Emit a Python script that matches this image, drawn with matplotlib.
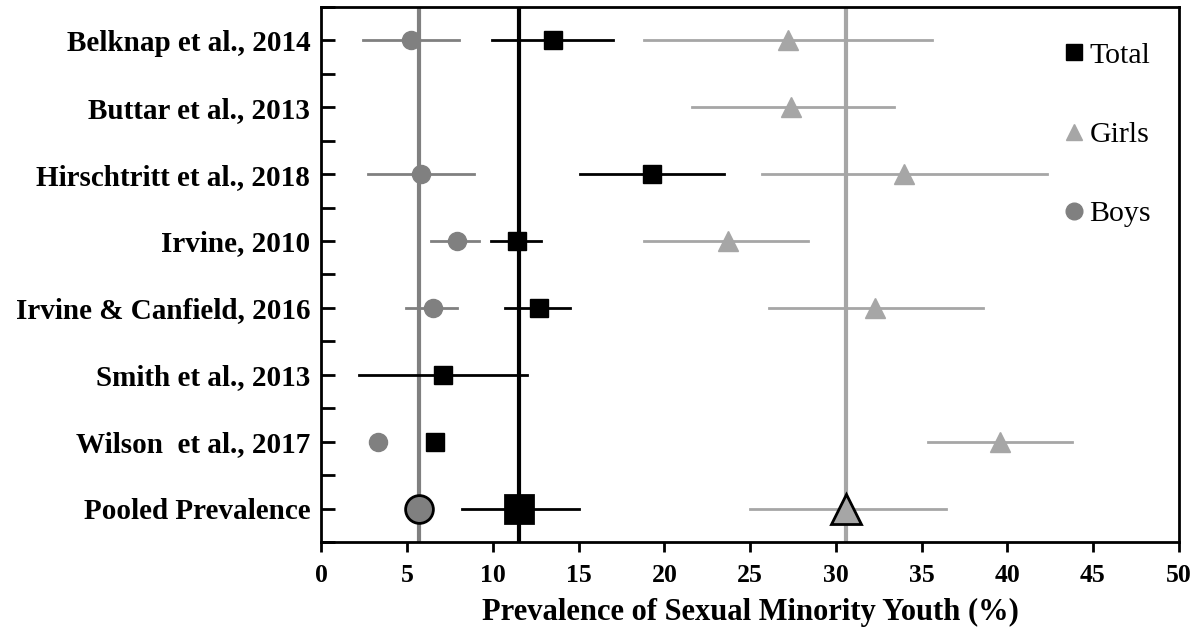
import numpy as np
import matplotlib
matplotlib.use('Agg')
import matplotlib.pyplot as plt
from matplotlib.lines import Line2D

plt.rcParams['font.family'] = ['Liberation Serif', 'DejaVu Serif']

# Data
studies = ['Belknap et al., 2014', 'Buttar et al., 2013', 'Hirschtritt et al., 2018',
           'Irvine, 2010', 'Irvine & Canfield, 2016', 'Smith et al., 2013',
           'Wilson  et al., 2017', 'Pooled Prevalence']
nan = np.nan
total_est = [13.5, nan, 19.3, 11.4, 12.7, 7.1, 6.6, 11.55]
total_lo = [9.95, nan, 15.1, 9.9, 10.7, 2.2, nan, 8.2]
total_hi = [17.0, nan, 23.5, 12.8, 14.5, 12.0, nan, 15.05]
girls_est = [27.2, 27.4, 34.0, 23.7, 32.3, nan, 39.6, 30.6]
girls_lo = [18.8, 21.6, 25.7, 18.8, 26.1, nan, 35.4, 25.0]
girls_hi = [35.6, 33.4, 42.3, 28.4, 38.6, nan, 43.8, 36.4]
boys_est = [5.25, nan, 5.8, 7.9, 6.5, nan, 3.3, 5.66]
boys_lo = [2.45, nan, 2.7, 6.4, 4.95, nan, nan, nan]
boys_hi = [8.0, nan, 8.9, 9.2, 7.9, nan, nan, nan]

c_total = 'black'
c_girls = '#a6a6a6'
c_boys = '#808080'

fig = plt.figure(figsize=(12.04, 6.32), dpi=100)
ax = fig.add_axes([0.267, 0.1424, 0.712, 0.8466])

y = np.arange(len(studies))
pooled = len(studies) - 1

# pooled reference lines
ax.axvline(boys_est[pooled], color=c_boys, lw=3, zorder=1)
ax.axvline(total_est[pooled], color=c_total, lw=3, zorder=1)
ax.axvline(girls_est[pooled], color=c_girls, lw=3, zorder=1)

series = [(total_est, total_lo, total_hi, c_total, 's', 13, 20),
          (girls_est, girls_lo, girls_hi, c_girls, '^', 14, 22),
          (boys_est, boys_lo, boys_hi, c_boys, 'o', 13, 20)]

for est, lo, hi, col, mk, ms, pms in series:
    for i in range(len(studies)):
        if not np.isnan(lo[i]):
            ax.plot([lo[i], hi[i]], [y[i], y[i]], color=col, lw=2, zorder=2)
        if np.isnan(est[i]):
            continue
        if i == pooled:
            ax.plot(est[i], y[i], marker=mk, color=col, ms=pms,
                    mec='black', mew=2, zorder=4)
        else:
            ax.plot(est[i], y[i], marker=mk, color=col, ms=ms, mec=col, zorder=3)

ax.set_xlim(0, 50)
ax.set_ylim(len(studies) - 0.5, -0.5)
ax.set_xticks(np.arange(0, 51, 5))
ax.set_yticks(y)
ax.set_yticklabels(studies)
ax.set_yticks(np.arange(-0.5, len(studies), 1), minor=True)

ax.tick_params(axis='y', which='both', direction='in', length=10, width=2,
               labelsize=21, pad=8)
ax.tick_params(axis='x', direction='out', length=7, width=2, labelsize=18.5, pad=9)
for lab in ax.get_yticklabels() + ax.get_xticklabels():
    lab.set_fontweight('bold')
for sp in ax.spines.values():
    sp.set_linewidth(2)

ax.set_xlabel('Prevalence of Sexual Minority Youth (%)', fontsize=22,
              fontweight='bold', labelpad=8)

handles = [Line2D([], [], ls='none', marker='s', color=c_total, ms=12),
           Line2D([], [], ls='none', marker='^', color=c_girls, ms=12),
           Line2D([], [], ls='none', marker='o', color=c_boys, ms=12)]
ax.legend(handles, ['Total', 'Girls', 'Boys'], loc='upper left',
          bbox_to_anchor=(1049 / 1204, 1 - 27 / 632), bbox_transform=fig.transFigure,
          frameon=False, fontsize=21.5, labelspacing=1.75, handlelength=0.7,
          handletextpad=0.15, borderpad=0)

fig.savefig('out.png', dpi=100)
